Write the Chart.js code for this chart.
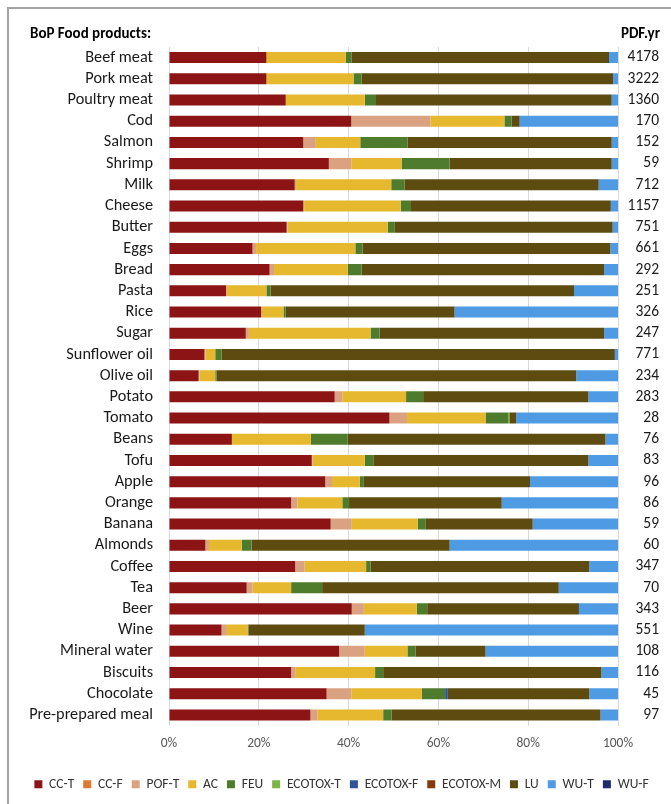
<!DOCTYPE html>
<html><head><meta charset="utf-8">
<script src="https://cdn.jsdelivr.net/npm/chart.js@4/dist/chart.umd.min.js"></script>
<style>
html,body{margin:0;padding:0;background:#fff;}
#wrap{position:relative;width:671px;height:804px;overflow:hidden;}
#frame{position:absolute;left:7px;top:7px;width:700px;height:840px;border-left:2px solid #a3a3a3;border-top:2px solid #a3a3a3;box-sizing:border-box;}
#c{position:absolute;left:0;top:0;}
.hdr{position:absolute;top:24px;font:bold 15px Carlito, Lato, sans-serif;color:#000;line-height:18px;white-space:nowrap;}
</style></head>
<body>
<div id="wrap">
<div id="frame"></div>
<canvas id="c" width="671" height="804"></canvas>
<div class="hdr" style="left:30px;">BoP Food products:</div>
<div class="hdr" style="right:11px;">PDF.yr</div>
</div>
<script>
const categories = ['Beef meat','Pork meat','Poultry meat','Cod','Salmon','Shrimp','Milk','Cheese','Butter','Eggs','Bread','Pasta','Rice','Sugar','Sunflower oil','Olive oil','Potato','Tomato','Beans','Tofu','Apple','Orange','Banana','Almonds','Coffee','Tea','Beer','Wine','Mineral water','Biscuits','Chocolate','Pre-prepared meal'];
const pdfYr = [4178,3222,1360,170,152,59,712,1157,751,661,292,251,326,247,771,234,283,28,76,83,96,86,59,60,347,70,343,551,108,116,45,97];
const xTicks = [0,20,40,60,80,100];

const ccT = [21.7,21.7,26.0,40.6,29.9,35.6,28.0,29.9,26.2,18.6,22.4,12.7,20.5,17.1,7.9,6.6,36.9,49.1,14.0,31.8,34.8,27.2,36.0,8.1,28.1,17.3,40.7,11.7,37.9,27.2,35.1,31.5];
const ccF = [0,0,0,0,0,0,0,0,0,0,0,0,0,0,0,0,0,0,0,0,0,0,0,0,0,0,0,0,0,0,0,0];
const pofT = [0,0,0,17.6,2.8,5.0,0.3,0.2,0.2,0.8,1.0,0.2,0.2,0.7,0.2,0.2,1.7,3.9,0,0.2,1.5,1.4,4.7,0.8,2.1,1.3,2.7,1.2,5.7,0.9,5.5,1.6];
const ac = [17.7,19.4,17.6,16.5,9.9,11.2,21.2,21.5,22.3,22.1,16.4,8.8,4.8,27.1,2.2,3.5,14.2,17.5,17.6,11.6,6.2,10.0,14.7,7.3,13.7,8.6,11.8,4.6,9.5,17.8,15.7,14.6];
const feu = [1.3,1.8,2.5,1.6,10.5,10.7,3.0,2.3,1.6,1.6,3.1,0.9,0.5,2.0,1.4,0.3,3.8,5.0,8.2,1.9,0.9,1.5,1.8,2.2,1.0,6.9,2.3,0.2,1.8,1.8,5.2,1.9];
const ecotoxT = [0,0,0,0,0,0,0,0,0,0,0,0,0,0,0,0,0,0.3,0,0,0,0,0,0,0,0,0,0,0,0,0,0];
const ecotoxF = [0,0,0,0,0,0,0,0,0,0,0,0,0,0,0,0,0,0,0,0,0,0,0,0,0,0,0,0,0,0,0.6,0];
const ecotoxM = [0,0,0,0,0,0,0,0,0,0,0,0,0,0,0,0,0,0,0,0,0,0,0,0,0,0,0,0,0,0,0,0];
const lu = [57.3,56.0,52.5,1.8,45.5,36.1,43.2,44.5,48.5,55.2,54.0,67.6,37.6,50.0,87.6,80.1,36.8,1.5,57.4,47.9,37.0,34.0,23.8,44.1,48.7,52.7,33.8,25.9,15.6,48.6,31.5,46.5];
const wuT = [2.0,1.1,1.4,21.9,1.4,1.4,4.3,1.6,1.2,1.7,3.1,9.8,36.4,3.1,0.7,9.3,6.6,22.7,2.8,6.6,19.6,25.9,19.0,37.5,6.4,13.2,8.7,56.4,29.5,3.7,6.4,3.9];
const wuF = [0,0,0,0,0,0,0,0,0,0,0,0,0,0,0,0,0,0,0,0,0,0,0,0,0,0,0,0,0,0,0,0];

const seriesNames = ['CC-T','CC-F','POF-T','AC','FEU','ECOTOX-T','ECOTOX-F','ECOTOX-M','LU','WU-T','WU-F'];
const seriesData = [ccT,ccF,pofT,ac,feu,ecotoxT,ecotoxF,ecotoxM,lu,wuT,wuF];
const seriesColors = ['#8c1414','#e0782f','#dba282','#e6b82d','#4f7c2c','#7db347','#2f5597','#843c0c','#5e4b10','#4e9be4','#1f2d6b'];

const FONT = 'Carlito, Lato, sans-serif';

new Chart(document.getElementById('c'), {
  type: 'bar',
  data: {
    labels: categories,
    datasets: seriesNames.map((n,i)=>({
      label: n, data: seriesData[i], backgroundColor: seriesColors[i],
      borderWidth: 0, barPercentage: 0.52, categoryPercentage: 1, yAxisID: 'y'
    }))
  },
  options: {
    indexAxis: 'y',
    responsive: false,
    animation: false,
    layout: { padding: { left: 24, right: 12, top: 47, bottom: 3 } },
    plugins: {
      title: { display: false },
      tooltip: { enabled: false },
      legend: {
        position: 'bottom',
        labels: {
          boxWidth: 8, boxHeight: 8, padding: 9, color: '#333',
          font: { family: FONT, size: 13.5 }
        }
      }
    },
    scales: {
      x: {
        stacked: true, min: 0, max: 100,
        afterBuildTicks: s => { s.ticks = xTicks.map(v=>({value:v})); },
        ticks: { callback: v => v + '%', color: '#595959', font: { family: FONT, size: 13.5 }, padding: 10 },
        grid: { color: '#d9d9d9', drawTicks: false },
        border: { display: false },
        afterFit: s => { s.height = 43; }
      },
      y: {
        stacked: true,
        grid: { display: false, drawTicks: false },
        border: { display: false },
        ticks: { color: '#1a1a1a', font: { family: FONT, size: 16.3 }, padding: 16, autoSkip: false },
        afterFit: s => { s.width = 145; }
      },
      y2: {
        type: 'category', labels: pdfYr.map(String), position: 'right', offset: true,
        grid: { display: false, drawTicks: false },
        border: { display: false },
        ticks: { crossAlign: 'far', color: '#1a1a1a', font: { family: FONT, size: 15.5 }, padding: 0, autoSkip: false },
        afterFit: s => { s.width = 41; }
      }
    }
  }
});
</script>
</body></html>
